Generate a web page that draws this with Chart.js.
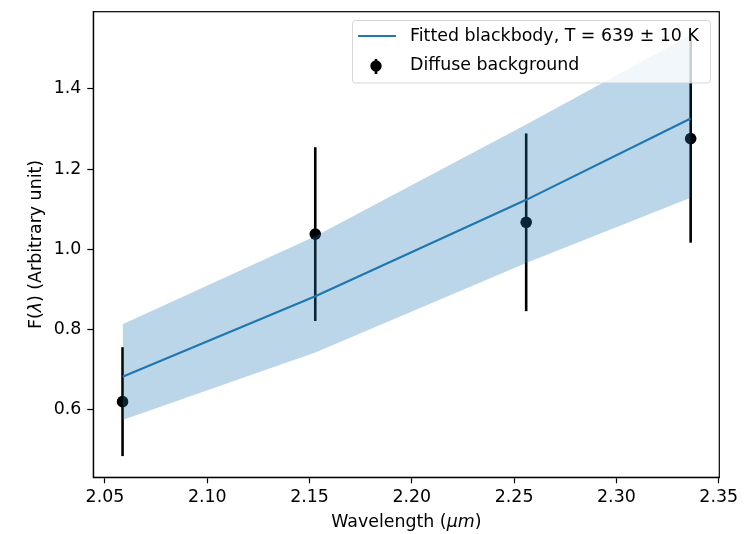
<!DOCTYPE html>
<html>
<head>
<meta charset="utf-8">
<script src="https://cdn.jsdelivr.net/npm/chart.js@4"></script>
<style>
    html, body { margin: 0; padding: 0; background: #fff; }
    #wrap { width: 753px; height: 534px; }
</style>
</head>
<body>
<div id="wrap"><canvas id="chart" width="753" height="534"></canvas></div>
<script>
const wavelengths = [2.0586, 2.1528, 2.2559, 2.3363];
const fluxValues = [0.619, 1.0375, 1.067, 1.276];
const fluxErrors = [0.136, 0.217, 0.222, 0.26];
const fitValues = [0.681, 0.882, 1.123, 1.326];
const fitUpper = [0.812, 1.032, 1.311, 1.535];
const fitLower = [0.573, 0.742, 0.965, 1.128];
const xTicks = [2.05, 2.1, 2.15, 2.2, 2.25, 2.3, 2.35];
const yTicks = [0.6, 0.8, 1.0, 1.2, 1.4];

const FONT_SIZE = 17.4;
const FONT = FONT_SIZE + 'px "DejaVu Sans"';
const ITALIC = 'oblique ' + FONT_SIZE + 'px "DejaVu Sans"';

const toPoints = (ys) => wavelengths.map((x, i) => ({ x: x, y: ys[i] }));

// draws mixed regular / italic text pieces, centred on 0,0
const drawPieces = (ctx, pieces) => {
    let total = 0;
    pieces.forEach((p) => {
        ctx.font = p[1] ? ITALIC : FONT;
        total += ctx.measureText(p[0]).width;
    });
    let x = -total / 2;
    pieces.forEach((p) => {
        ctx.font = p[1] ? ITALIC : FONT;
        ctx.fillText(p[0], x, 0);
        x += ctx.measureText(p[0]).width;
    });
};

const errorBars = {
    id: 'errorBars',
    beforeDatasetDraw(chart, args) {
        if (args.index !== 3) return;
        const { ctx, scales } = chart;
        ctx.save();
        ctx.strokeStyle = '#000';
        ctx.lineWidth = 2.6;
        wavelengths.forEach((w, i) => {
            const px = scales.x.getPixelForValue(w);
            ctx.beginPath();
            ctx.moveTo(px, scales.y.getPixelForValue(fluxValues[i] - fluxErrors[i]));
            ctx.lineTo(px, scales.y.getPixelForValue(fluxValues[i] + fluxErrors[i]));
            ctx.stroke();
        });
        ctx.restore();
    },
};

const frameAndLabels = {
    id: 'frameAndLabels',
    afterDraw(chart) {
        const { ctx, chartArea } = chart;
        const { left, top, right, bottom } = chartArea;
        ctx.save();
        ctx.strokeStyle = '#000';
        ctx.lineWidth = 1.2;
        ctx.strokeRect(left, top, right - left, bottom - top);

        ctx.fillStyle = '#000';
        ctx.textBaseline = 'middle';
        ctx.textAlign = 'left';

        // x axis label
        ctx.save();
        ctx.translate((left + right) / 2, 522);
        drawPieces(ctx, [['Wavelength (', false], ['\u03bcm', true], [')', false]]);
        ctx.restore();

        // y axis label
        ctx.save();
        ctx.translate(36, (top + bottom) / 2);
        ctx.rotate(-Math.PI / 2);
        drawPieces(ctx, [['F(', false], ['\u03bb', true], [') (Arbitrary unit)', false]]);
        ctx.restore();

        // legend
        const bx = 352.5, by = 20.5, bw = 358, bh = 62.5, r = 3;
        ctx.beginPath();
        ctx.roundRect(bx, by, bw, bh, r);
        ctx.fillStyle = 'rgba(255,255,255,0.8)';
        ctx.fill();
        ctx.strokeStyle = 'rgba(204,204,204,0.8)';
        ctx.lineWidth = 1;
        ctx.stroke();

        ctx.strokeStyle = '#1f77b4';
        ctx.lineWidth = 2.2;
        ctx.beginPath();
        ctx.moveTo(358, 36);
        ctx.lineTo(396, 36);
        ctx.stroke();

        ctx.strokeStyle = '#000';
        ctx.lineWidth = 2.6;
        ctx.beginPath();
        ctx.moveTo(376, 59);
        ctx.lineTo(376, 74);
        ctx.stroke();
        ctx.fillStyle = '#000';
        ctx.beginPath();
        ctx.arc(376, 66, 5.7, 0, Math.PI * 2);
        ctx.fill();

        ctx.font = FONT;
        ctx.fillText('Fitted blackbody, T = 639 \u00b1 10 K', 410, 36);
        ctx.fillText('Diffuse background', 410, 65);
        ctx.restore();
    },
};

new Chart(document.getElementById('chart'), {
    type: 'scatter',
    data: {
        datasets: [
            {
                label: 'upper',
                type: 'line',
                data: toPoints(fitUpper),
                borderWidth: 0,
                pointRadius: 0,
                backgroundColor: 'rgba(31,119,180,0.3)',
                fill: '+1',
                tension: 0,
            },
            {
                label: 'lower',
                type: 'line',
                data: toPoints(fitLower),
                borderWidth: 0,
                pointRadius: 0,
                fill: false,
                tension: 0,
            },
            {
                label: 'Fitted blackbody',
                type: 'line',
                data: toPoints(fitValues),
                borderColor: '#1f77b4',
                borderWidth: 2.2,
                pointRadius: 0,
                fill: false,
                tension: 0,
            },
            {
                label: 'Diffuse background',
                data: toPoints(fluxValues),
                backgroundColor: '#000',
                borderColor: '#000',
                borderWidth: 0,
                pointRadius: 5.8,
                pointHoverRadius: 5.8,
            },
        ],
    },
    options: {
        responsive: false,
        animation: false,
        events: [],
        layout: { padding: { left: 0, top: 11.7, right: 33.7, bottom: 0 } },
        plugins: {
            legend: { display: false },
            tooltip: { enabled: false },
        },
        scales: {
            x: {
                type: 'linear',
                min: 2.0443,
                max: 2.3503,
                afterBuildTicks: (scale) => {
                    scale.ticks = xTicks.map((v) => ({ value: v }));
                },
                afterFit: (scale) => {
                    scale.height = 56.7;
                    scale.paddingLeft = 0;
                    scale.paddingRight = 0;
                },
                ticks: {
                    callback: (v) => v.toFixed(2),
                    color: '#000',
                    font: { family: 'DejaVu Sans', size: FONT_SIZE },
                    padding: 4,
                    maxRotation: 0,
                    autoSkip: false,
                },
                grid: {
                    drawOnChartArea: false,
                    drawTicks: true,
                    tickLength: 6,
                    tickWidth: 1.2,
                    color: '#000',
                },
                border: { display: true, color: '#000', width: 1.2 },
            },
            y: {
                type: 'linear',
                min: 0.430,
                max: 1.593,
                afterBuildTicks: (scale) => {
                    scale.ticks = yTicks.map((v) => ({ value: v }));
                },
                afterFit: (scale) => {
                    scale.width = 93.3;
                    scale.paddingTop = 0;
                    scale.paddingBottom = 0;
                },
                ticks: {
                    callback: (v) => v.toFixed(1),
                    color: '#000',
                    font: { family: 'DejaVu Sans', size: FONT_SIZE },
                    padding: 6,
                    autoSkip: false,
                },
                grid: {
                    drawOnChartArea: false,
                    drawTicks: true,
                    tickLength: 6,
                    tickWidth: 1.2,
                    color: '#000',
                },
                border: { display: true, color: '#000', width: 1.2 },
            },
        },
    },
    plugins: [errorBars, frameAndLabels],
});
</script>
</body>
</html>
